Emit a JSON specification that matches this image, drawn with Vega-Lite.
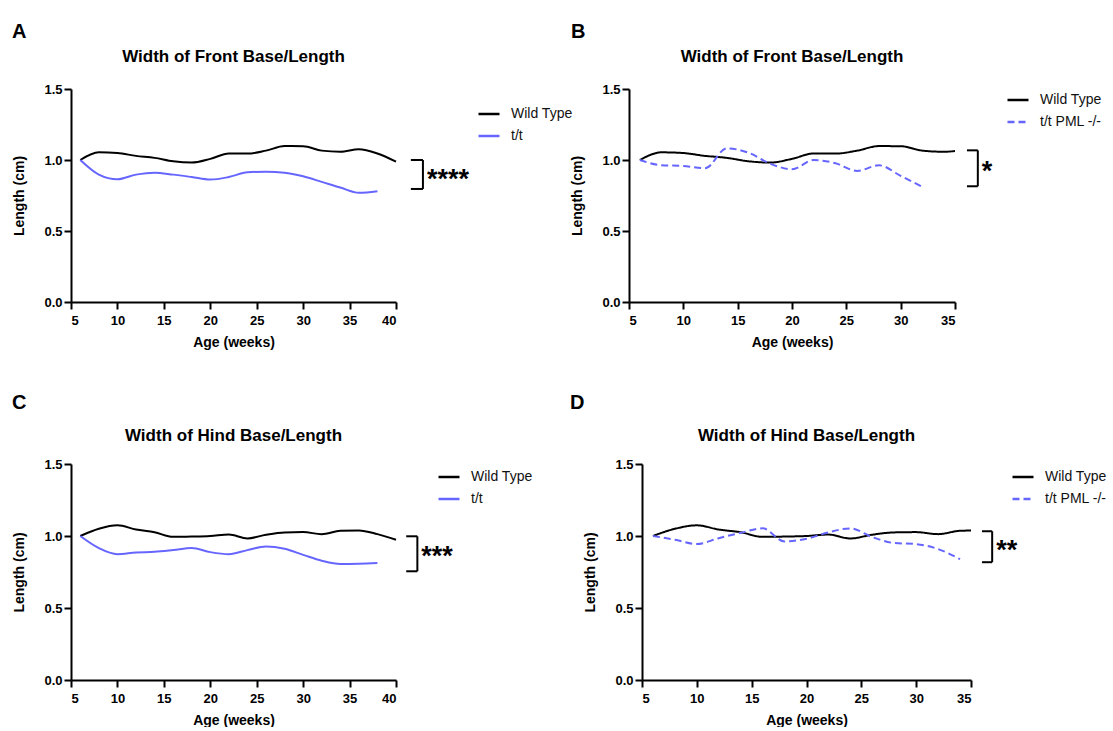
{
  "$schema": "https://vega.github.io/schema/vega-lite/v6.json",
  "background": "white",
  "padding": {"left": 12, "top": 22, "right": 0, "bottom": 0},
  "autosize": {"type": "pad"},
  "resolve": {"scale": {"color": "independent", "strokeDash": "independent"}},
  "config": {
    "view": {"stroke": null},
    "font": "Liberation Sans",
    "axis": {"grid": false, "domainColor": "black", "domainWidth": 2, "tickColor": "black", "tickWidth": 2, "tickSize": 7, "labelFont": "Liberation Sans", "labelFontWeight": "bold", "labelFontSize": 13, "labelColor": "black", "titleFont": "Liberation Sans", "titleFontWeight": "bold", "titleFontSize": 14, "titleColor": "black"},
    "axisX": {"labelPadding": 5, "titlePadding": 8},
    "axisY": {"labelPadding": 2, "titlePadding": 17},
    "legend": {"orient": "none", "title": null, "labelFont": "Liberation Sans", "labelFontSize": 14, "labelColor": "#111111", "symbolType": "stroke", "symbolSize": 441, "symbolStrokeWidth": 2.5, "labelOffset": 10, "rowPadding": 3, "padding": 0}
  },
  "datasets": {
    "front_tt": [
      {"week": 6, "value": 1.0, "group": "Wild Type"}, {"week": 8, "value": 1.054, "group": "Wild Type"}, {"week": 10, "value": 1.049, "group": "Wild Type"}, {"week": 12, "value": 1.029, "group": "Wild Type"}, {"week": 14, "value": 1.015, "group": "Wild Type"}, {"week": 16, "value": 0.991, "group": "Wild Type"}, {"week": 18, "value": 0.982, "group": "Wild Type"}, {"week": 20, "value": 1.008, "group": "Wild Type"}, {"week": 22, "value": 1.046, "group": "Wild Type"}, {"week": 24, "value": 1.045, "group": "Wild Type"}, {"week": 26, "value": 1.066, "group": "Wild Type"}, {"week": 28, "value": 1.098, "group": "Wild Type"}, {"week": 30, "value": 1.097, "group": "Wild Type"}, {"week": 32, "value": 1.066, "group": "Wild Type"}, {"week": 34, "value": 1.058, "group": "Wild Type"}, {"week": 36, "value": 1.076, "group": "Wild Type"}, {"week": 38, "value": 1.046, "group": "Wild Type"}, {"week": 40, "value": 0.988, "group": "Wild Type"},
      {"week": 6, "value": 1.0, "group": "t/t"}, {"week": 8, "value": 0.897, "group": "t/t"}, {"week": 10, "value": 0.864, "group": "t/t"}, {"week": 12, "value": 0.897, "group": "t/t"}, {"week": 14, "value": 0.911, "group": "t/t"}, {"week": 16, "value": 0.897, "group": "t/t"}, {"week": 18, "value": 0.88, "group": "t/t"}, {"week": 20, "value": 0.862, "group": "t/t"}, {"week": 22, "value": 0.88, "group": "t/t"}, {"week": 24, "value": 0.913, "group": "t/t"}, {"week": 26, "value": 0.918, "group": "t/t"}, {"week": 28, "value": 0.911, "group": "t/t"}, {"week": 30, "value": 0.885, "group": "t/t"}, {"week": 32, "value": 0.846, "group": "t/t"}, {"week": 34, "value": 0.806, "group": "t/t"}, {"week": 36, "value": 0.769, "group": "t/t"}, {"week": 38, "value": 0.78, "group": "t/t"}
    ],
    "front_pml": [
      {"week": 6, "value": 1.0, "group": "Wild Type"}, {"week": 8, "value": 1.054, "group": "Wild Type"}, {"week": 10, "value": 1.049, "group": "Wild Type"}, {"week": 12, "value": 1.029, "group": "Wild Type"}, {"week": 14, "value": 1.015, "group": "Wild Type"}, {"week": 16, "value": 0.991, "group": "Wild Type"}, {"week": 18, "value": 0.982, "group": "Wild Type"}, {"week": 20, "value": 1.008, "group": "Wild Type"}, {"week": 22, "value": 1.046, "group": "Wild Type"}, {"week": 24, "value": 1.045, "group": "Wild Type"}, {"week": 26, "value": 1.066, "group": "Wild Type"}, {"week": 28, "value": 1.098, "group": "Wild Type"}, {"week": 30, "value": 1.097, "group": "Wild Type"}, {"week": 32, "value": 1.066, "group": "Wild Type"}, {"week": 34, "value": 1.058, "group": "Wild Type"}, {"week": 36, "value": 1.076, "group": "Wild Type"},
      {"week": 6, "value": 1.0, "group": "t/t PML -/-"}, {"week": 8, "value": 0.963, "group": "t/t PML -/-"}, {"week": 10, "value": 0.958, "group": "t/t PML -/-"}, {"week": 12, "value": 0.942, "group": "t/t PML -/-"}, {"week": 14, "value": 1.082, "group": "t/t PML -/-"}, {"week": 16, "value": 1.051, "group": "t/t PML -/-"}, {"week": 18, "value": 0.974, "group": "t/t PML -/-"}, {"week": 20, "value": 0.935, "group": "t/t PML -/-"}, {"week": 22, "value": 1.0, "group": "t/t PML -/-"}, {"week": 24, "value": 0.977, "group": "t/t PML -/-"}, {"week": 26, "value": 0.923, "group": "t/t PML -/-"}, {"week": 28, "value": 0.963, "group": "t/t PML -/-"}, {"week": 30, "value": 0.888, "group": "t/t PML -/-"}, {"week": 32, "value": 0.811, "group": "t/t PML -/-"}
    ],
    "hind_tt": [
      {"week": 6, "value": 1.0, "group": "Wild Type"}, {"week": 8, "value": 1.05, "group": "Wild Type"}, {"week": 10, "value": 1.074, "group": "Wild Type"}, {"week": 12, "value": 1.045, "group": "Wild Type"}, {"week": 14, "value": 1.026, "group": "Wild Type"}, {"week": 16, "value": 0.994, "group": "Wild Type"}, {"week": 18, "value": 0.996, "group": "Wild Type"}, {"week": 20, "value": 1.0, "group": "Wild Type"}, {"week": 22, "value": 1.01, "group": "Wild Type"}, {"week": 24, "value": 0.983, "group": "Wild Type"}, {"week": 26, "value": 1.009, "group": "Wild Type"}, {"week": 28, "value": 1.025, "group": "Wild Type"}, {"week": 30, "value": 1.027, "group": "Wild Type"}, {"week": 32, "value": 1.013, "group": "Wild Type"}, {"week": 34, "value": 1.036, "group": "Wild Type"}, {"week": 36, "value": 1.039, "group": "Wild Type"}, {"week": 38, "value": 1.013, "group": "Wild Type"}, {"week": 40, "value": 0.974, "group": "Wild Type"},
      {"week": 6, "value": 1.0, "group": "t/t"}, {"week": 8, "value": 0.916, "group": "t/t"}, {"week": 10, "value": 0.874, "group": "t/t"}, {"week": 12, "value": 0.886, "group": "t/t"}, {"week": 14, "value": 0.89, "group": "t/t"}, {"week": 16, "value": 0.902, "group": "t/t"}, {"week": 18, "value": 0.916, "group": "t/t"}, {"week": 20, "value": 0.888, "group": "t/t"}, {"week": 22, "value": 0.874, "group": "t/t"}, {"week": 24, "value": 0.902, "group": "t/t"}, {"week": 26, "value": 0.927, "group": "t/t"}, {"week": 28, "value": 0.911, "group": "t/t"}, {"week": 30, "value": 0.869, "group": "t/t"}, {"week": 32, "value": 0.828, "group": "t/t"}, {"week": 34, "value": 0.805, "group": "t/t"}, {"week": 36, "value": 0.807, "group": "t/t"}, {"week": 38, "value": 0.812, "group": "t/t"}
    ],
    "hind_pml": [
      {"week": 6, "value": 1.0, "group": "Wild Type"}, {"week": 8, "value": 1.05, "group": "Wild Type"}, {"week": 10, "value": 1.074, "group": "Wild Type"}, {"week": 12, "value": 1.045, "group": "Wild Type"}, {"week": 14, "value": 1.026, "group": "Wild Type"}, {"week": 16, "value": 0.994, "group": "Wild Type"}, {"week": 18, "value": 0.996, "group": "Wild Type"}, {"week": 20, "value": 1.0, "group": "Wild Type"}, {"week": 22, "value": 1.01, "group": "Wild Type"}, {"week": 24, "value": 0.983, "group": "Wild Type"}, {"week": 26, "value": 1.009, "group": "Wild Type"}, {"week": 28, "value": 1.025, "group": "Wild Type"}, {"week": 30, "value": 1.027, "group": "Wild Type"}, {"week": 32, "value": 1.013, "group": "Wild Type"}, {"week": 34, "value": 1.036, "group": "Wild Type"}, {"week": 36, "value": 1.039, "group": "Wild Type"},
      {"week": 6, "value": 1.0, "group": "t/t PML -/-"}, {"week": 8, "value": 0.974, "group": "t/t PML -/-"}, {"week": 10, "value": 0.944, "group": "t/t PML -/-"}, {"week": 12, "value": 0.985, "group": "t/t PML -/-"}, {"week": 14, "value": 1.022, "group": "t/t PML -/-"}, {"week": 16, "value": 1.053, "group": "t/t PML -/-"}, {"week": 18, "value": 0.962, "group": "t/t PML -/-"}, {"week": 20, "value": 0.981, "group": "t/t PML -/-"}, {"week": 22, "value": 1.025, "group": "t/t PML -/-"}, {"week": 24, "value": 1.053, "group": "t/t PML -/-"}, {"week": 26, "value": 0.992, "group": "t/t PML -/-"}, {"week": 28, "value": 0.951, "group": "t/t PML -/-"}, {"week": 30, "value": 0.944, "group": "t/t PML -/-"}, {"week": 32, "value": 0.909, "group": "t/t PML -/-"}, {"week": 34, "value": 0.839, "group": "t/t PML -/-"}
    ],
    "sigA": [{"at": 42.9, "from": 41.6, "top": 1.0, "bottom": 0.796, "mid": 0.88, "stars": "****"}],
    "sigB": [{"at": 37.1, "from": 36.1, "top": 1.068, "bottom": 0.815, "mid": 0.934, "stars": "*"}],
    "sigC": [{"at": 42.3, "from": 41.1, "top": 0.998, "bottom": 0.755, "mid": 0.873, "stars": "***"}],
    "sigD": [{"at": 36.93, "from": 36.0, "top": 1.033, "bottom": 0.818, "mid": 0.919, "stars": "**"}]
  },
  "vconcat": [
    {
      "resolve": {"scale": {"color": "independent", "strokeDash": "independent"}},
      "hconcat": [
        {
          "resolve": {"scale": {"color": "independent", "strokeDash": "independent"}},
          "title": {"text": "A", "anchor": "start", "frame": "group", "dx": -59, "fontSize": 20, "fontWeight": "bold", "color": "black", "font": "Liberation Sans", "offset": 6},
          "vconcat": [
            {
              "width": 325, "height": 213,
              "title": {"text": "Width of Front Base/Length", "anchor": "middle", "frame": "group", "fontSize": 17, "fontWeight": "bold", "color": "black", "font": "Liberation Sans", "offset": 17},
              "layer": [
                {
                  "data": {"name": "front_tt"},
                  "mark": {"type": "line", "strokeWidth": 2, "interpolate": "monotone"},
                  "encoding": {
                    "x": {"field": "week", "type": "quantitative", "scale": {"domain": [5, 40], "nice": false, "zero": false}, "axis": {"values": [5, 10, 15, 20, 25, 30, 35, 40], "format": "d", "title": "Age (weeks)"}},
                    "y": {"field": "value", "type": "quantitative", "scale": {"domain": [0, 1.5], "nice": false}, "axis": {"values": [0, 0.5, 1, 1.5], "format": ".1f", "title": "Length (cm)"}},
                    "color": {"field": "group", "type": "nominal", "scale": {"domain": ["Wild Type", "t/t"], "range": ["#000000", "#6666ff"]}, "legend": {"legendX": 406, "legendY": 13}}
                  }
                },
                {"data": {"name": "sigA"}, "mark": {"type": "rule", "strokeWidth": 2, "color": "black"}, "encoding": {"x": {"field": "at", "type": "quantitative"}, "y": {"field": "top", "type": "quantitative"}, "y2": {"field": "bottom"}}},
                {"data": {"name": "sigA"}, "mark": {"type": "rule", "strokeWidth": 2, "color": "black"}, "encoding": {"x": {"field": "from", "type": "quantitative"}, "x2": {"field": "at"}, "y": {"field": "top", "type": "quantitative"}}},
                {"data": {"name": "sigA"}, "mark": {"type": "rule", "strokeWidth": 2, "color": "black"}, "encoding": {"x": {"field": "from", "type": "quantitative"}, "x2": {"field": "at"}, "y": {"field": "bottom", "type": "quantitative"}}},
                {"data": {"name": "sigA"}, "mark": {"type": "text", "align": "left", "baseline": "middle", "dx": 4, "dy": 3, "fontSize": 27, "fontWeight": "bold", "font": "Liberation Sans", "color": "black"}, "encoding": {"x": {"field": "at", "type": "quantitative"}, "y": {"field": "mid", "type": "quantitative"}, "text": {"field": "stars"}}}
              ]
            }
          ]
        },
        {
          "resolve": {"scale": {"color": "independent", "strokeDash": "independent"}},
          "title": {"text": "B", "anchor": "start", "frame": "group", "dx": -58, "fontSize": 20, "fontWeight": "bold", "color": "black", "font": "Liberation Sans", "offset": 6},
          "vconcat": [
            {
              "width": 326, "height": 213,
              "title": {"text": "Width of Front Base/Length", "anchor": "middle", "frame": "group", "fontSize": 17, "fontWeight": "bold", "color": "black", "font": "Liberation Sans", "offset": 17},
              "layer": [
                {
                  "data": {"name": "front_pml"},
                  "mark": {"type": "line", "strokeWidth": 2, "interpolate": "monotone", "clip": true},
                  "encoding": {
                    "x": {"field": "week", "type": "quantitative", "scale": {"domain": [5, 35], "nice": false, "zero": false}, "axis": {"values": [5, 10, 15, 20, 25, 30, 35], "format": "d", "title": "Age (weeks)"}},
                    "y": {"field": "value", "type": "quantitative", "scale": {"domain": [0, 1.5], "nice": false}, "axis": {"values": [0, 0.5, 1, 1.5], "format": ".1f", "title": "Length (cm)"}},
                    "color": {"field": "group", "type": "nominal", "scale": {"domain": ["Wild Type", "t/t PML -/-"], "range": ["#000000", "#6666ff"]}, "legend": {"legendX": 377, "legendY": -1}},
                    "strokeDash": {"field": "group", "type": "nominal", "scale": {"domain": ["Wild Type", "t/t PML -/-"], "range": [[1, 0], [7, 4]]}, "legend": {"legendX": 377, "legendY": -1}}
                  }
                },
                {"data": {"name": "sigB"}, "mark": {"type": "rule", "strokeWidth": 2, "color": "black"}, "encoding": {"x": {"field": "at", "type": "quantitative"}, "y": {"field": "top", "type": "quantitative"}, "y2": {"field": "bottom"}}},
                {"data": {"name": "sigB"}, "mark": {"type": "rule", "strokeWidth": 2, "color": "black"}, "encoding": {"x": {"field": "from", "type": "quantitative"}, "x2": {"field": "at"}, "y": {"field": "top", "type": "quantitative"}}},
                {"data": {"name": "sigB"}, "mark": {"type": "rule", "strokeWidth": 2, "color": "black"}, "encoding": {"x": {"field": "from", "type": "quantitative"}, "x2": {"field": "at"}, "y": {"field": "bottom", "type": "quantitative"}}},
                {"data": {"name": "sigB"}, "mark": {"type": "text", "align": "left", "baseline": "middle", "dx": 4, "dy": 3, "fontSize": 27, "fontWeight": "bold", "font": "Liberation Sans", "color": "black"}, "encoding": {"x": {"field": "at", "type": "quantitative"}, "y": {"field": "mid", "type": "quantitative"}, "text": {"field": "stars"}}}
              ]
            }
          ]
        }
      ],
      "spacing": -3
    },
    {
      "resolve": {"scale": {"color": "independent", "strokeDash": "independent"}},
      "hconcat": [
        {
          "resolve": {"scale": {"color": "independent", "strokeDash": "independent"}},
          "title": {"text": "C", "anchor": "start", "frame": "group", "dx": -59, "fontSize": 20, "fontWeight": "bold", "color": "black", "font": "Liberation Sans", "offset": 14},
          "vconcat": [
            {
              "width": 325, "height": 216,
              "title": {"text": "Width of Hind Base/Length", "anchor": "middle", "frame": "group", "fontSize": 17, "fontWeight": "bold", "color": "black", "font": "Liberation Sans", "offset": 13},
              "layer": [
                {
                  "data": {"name": "hind_tt"},
                  "mark": {"type": "line", "strokeWidth": 2, "interpolate": "monotone"},
                  "encoding": {
                    "x": {"field": "week", "type": "quantitative", "scale": {"domain": [5, 40], "nice": false, "zero": false}, "axis": {"values": [5, 10, 15, 20, 25, 30, 35, 40], "format": "d", "title": "Age (weeks)"}},
                    "y": {"field": "value", "type": "quantitative", "scale": {"domain": [0, 1.5], "nice": false}, "axis": {"values": [0, 0.5, 1, 1.5], "format": ".1f", "title": "Length (cm)"}},
                    "color": {"field": "group", "type": "nominal", "scale": {"domain": ["Wild Type", "t/t"], "range": ["#000000", "#6666ff"]}, "legend": {"legendX": 366, "legendY": 1}}
                  }
                },
                {"data": {"name": "sigC"}, "mark": {"type": "rule", "strokeWidth": 2, "color": "black"}, "encoding": {"x": {"field": "at", "type": "quantitative"}, "y": {"field": "top", "type": "quantitative"}, "y2": {"field": "bottom"}}},
                {"data": {"name": "sigC"}, "mark": {"type": "rule", "strokeWidth": 2, "color": "black"}, "encoding": {"x": {"field": "from", "type": "quantitative"}, "x2": {"field": "at"}, "y": {"field": "top", "type": "quantitative"}}},
                {"data": {"name": "sigC"}, "mark": {"type": "rule", "strokeWidth": 2, "color": "black"}, "encoding": {"x": {"field": "from", "type": "quantitative"}, "x2": {"field": "at"}, "y": {"field": "bottom", "type": "quantitative"}}},
                {"data": {"name": "sigC"}, "mark": {"type": "text", "align": "left", "baseline": "middle", "dx": 4, "dy": 3, "fontSize": 27, "fontWeight": "bold", "font": "Liberation Sans", "color": "black"}, "encoding": {"x": {"field": "at", "type": "quantitative"}, "y": {"field": "mid", "type": "quantitative"}, "text": {"field": "stars"}}}
              ]
            }
          ]
        },
        {
          "resolve": {"scale": {"color": "independent", "strokeDash": "independent"}},
          "title": {"text": "D", "anchor": "start", "frame": "group", "dx": -72, "fontSize": 20, "fontWeight": "bold", "color": "black", "font": "Liberation Sans", "offset": 14},
          "vconcat": [
            {
              "width": 329, "height": 216,
              "title": {"text": "Width of Hind Base/Length", "anchor": "middle", "frame": "group", "fontSize": 17, "fontWeight": "bold", "color": "black", "font": "Liberation Sans", "offset": 13},
              "layer": [
                {
                  "data": {"name": "hind_pml"},
                  "mark": {"type": "line", "strokeWidth": 2, "interpolate": "monotone", "clip": true},
                  "encoding": {
                    "x": {"field": "week", "type": "quantitative", "scale": {"domain": [5, 35], "nice": false, "zero": false}, "axis": {"values": [5, 10, 15, 20, 25, 30, 35], "format": "d", "title": "Age (weeks)"}},
                    "y": {"field": "value", "type": "quantitative", "scale": {"domain": [0, 1.5], "nice": false}, "axis": {"values": [0, 0.5, 1, 1.5], "format": ".1f", "title": "Length (cm)"}},
                    "color": {"field": "group", "type": "nominal", "scale": {"domain": ["Wild Type", "t/t PML -/-"], "range": ["#000000", "#6666ff"]}, "legend": {"legendX": 369, "legendY": 1}},
                    "strokeDash": {"field": "group", "type": "nominal", "scale": {"domain": ["Wild Type", "t/t PML -/-"], "range": [[1, 0], [7, 4]]}, "legend": {"legendX": 369, "legendY": 1}}
                  }
                },
                {"data": {"name": "sigD"}, "mark": {"type": "rule", "strokeWidth": 2, "color": "black"}, "encoding": {"x": {"field": "at", "type": "quantitative"}, "y": {"field": "top", "type": "quantitative"}, "y2": {"field": "bottom"}}},
                {"data": {"name": "sigD"}, "mark": {"type": "rule", "strokeWidth": 2, "color": "black"}, "encoding": {"x": {"field": "from", "type": "quantitative"}, "x2": {"field": "at"}, "y": {"field": "top", "type": "quantitative"}}},
                {"data": {"name": "sigD"}, "mark": {"type": "rule", "strokeWidth": 2, "color": "black"}, "encoding": {"x": {"field": "from", "type": "quantitative"}, "x2": {"field": "at"}, "y": {"field": "bottom", "type": "quantitative"}}},
                {"data": {"name": "sigD"}, "mark": {"type": "text", "align": "left", "baseline": "middle", "dx": 4, "dy": 3, "fontSize": 27, "fontWeight": "bold", "font": "Liberation Sans", "color": "black"}, "encoding": {"x": {"field": "at", "type": "quantitative"}, "y": {"field": "mid", "type": "quantitative"}, "text": {"field": "stars"}}}
              ]
            }
          ]
        }
      ],
      "spacing": 37
    }
  ],
  "spacing": 44
}
